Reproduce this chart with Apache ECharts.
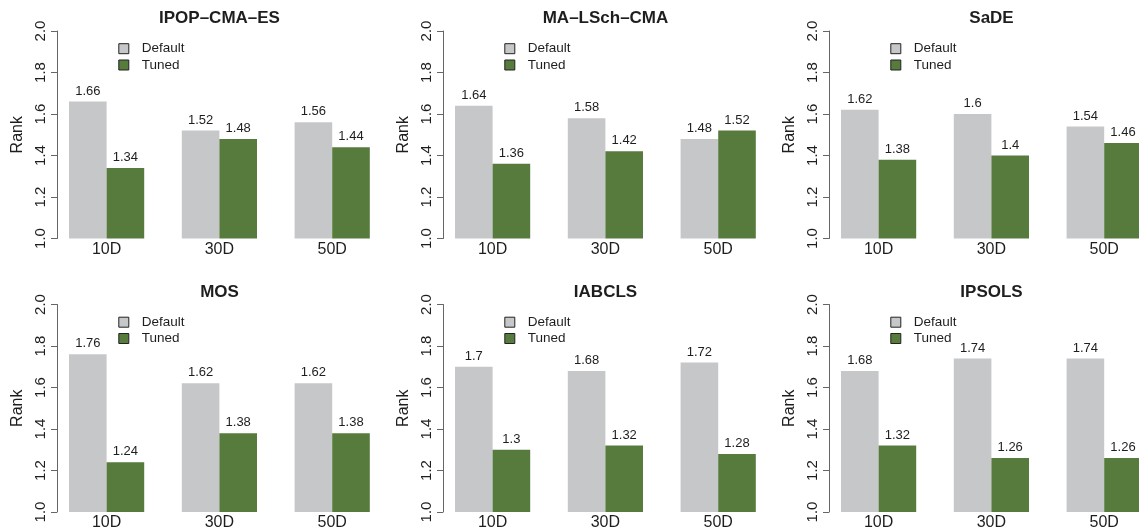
<!DOCTYPE html>
<html>
<head>
<meta charset="utf-8">
<script src="https://cdn.jsdelivr.net/npm/echarts@6/dist/echarts.min.js"></script>
<style>
  html, body { margin: 0; padding: 0; background: #ffffff; overflow: hidden; width: 1139px; height: 532px; }
  #chart { width: 1180px; height: 532px; }
</style>
</head>
<body>
<div id="chart"></div>
<script>
// ---- data ----
const categories = ['10D', '30D', '50D'];
const panelTitles = ['IPOP–CMA–ES', 'MA–LSch–CMA', 'SaDE', 'MOS', 'IABCLS', 'IPSOLS'];
const seriesNames = ['Default', 'Tuned'];
const defaultRanks = [
  [1.66, 1.52, 1.56],
  [1.64, 1.58, 1.48],
  [1.62, 1.6, 1.54],
  [1.76, 1.62, 1.62],
  [1.7, 1.68, 1.72],
  [1.68, 1.74, 1.74]
];
const tunedRanks = [
  [1.34, 1.48, 1.44],
  [1.36, 1.42, 1.52],
  [1.38, 1.4, 1.46],
  [1.24, 1.38, 1.38],
  [1.3, 1.32, 1.28],
  [1.32, 1.26, 1.26]
];
const yMin = 1.0, yMax = 2.0, yStep = 0.2;
const yLabel = 'Rank';

// ---- layout / style ----
const FONT = '"Liberation Sans", Arial, Helvetica, sans-serif';
const TXT = '#1e1e1e';
const GRAY = '#c6c7c9';
const GREEN = '#567b3c';
const axisX = [57, 443, 829];
const rowTop = [31, 304.5];
const plotH = 207.5;
const unit = 37.6;          // one bar width
const band = unit * 3;      // category band
const shift = 12 - (band / 2 - unit); // axis-to-band offset

const grids = [], xAxes = [], yAxes = [], series = [], titles = [], legends = [];
for (let i = 0; i < 6; i++) {
  const c = i % 3, r = Math.floor(i / 3);
  const A = axisX[c];
  const gLeft = A + shift;
  grids.push({ left: gLeft, top: rowTop[r], width: band * 3, height: plotH, containLabel: false });
  xAxes.push({
    type: 'category', gridIndex: i, data: categories,
    axisLine: { show: false }, axisTick: { show: false },
    axisLabel: { fontSize: 16, color: TXT, fontFamily: FONT, margin: 3 }
  });
  yAxes.push({
    type: 'value', gridIndex: i, min: yMin, max: yMax, interval: yStep,
    offset: -(A - gLeft),
    name: yLabel, nameLocation: 'middle', nameRotate: 90, nameGap: 31.5,
    nameTextStyle: { fontSize: 16, color: TXT, fontFamily: FONT },
    axisLine: { show: true, lineStyle: { color: '#666', width: 1 } },
    axisTick: { show: true, length: 6, lineStyle: { color: '#666', width: 1 } },
    splitLine: { show: false },
    axisLabel: {
      rotate: 90, fontSize: 15, color: TXT, fontFamily: FONT, margin: 9,
      formatter: v => v.toFixed(1)
    }
  });
  const lbl = { show: true, position: 'top', distance: 4, fontSize: 13, color: TXT, fontFamily: FONT };
  series.push({
    type: 'bar', name: seriesNames[0], xAxisIndex: i, yAxisIndex: i,
    data: defaultRanks[i], barWidth: unit, barGap: '0%',
    itemStyle: { color: GRAY }, label: lbl
  });
  series.push({
    type: 'bar', name: seriesNames[1], xAxisIndex: i, yAxisIndex: i,
    data: tunedRanks[i], barWidth: unit, barGap: '0%',
    itemStyle: { color: GREEN }, label: lbl
  });
  titles.push({
    text: panelTitles[i], left: A + 162.5, top: rowTop[r] - 20.7, textAlign: 'center', padding: 0,
    textStyle: { fontSize: 17, fontWeight: 'bold', color: TXT, fontFamily: FONT, lineHeight: 17 }
  });
  legends.push({
    data: seriesNames, orient: 'vertical', left: A + 61.3, top: rowTop[r] + 10.7, padding: 0,
    itemWidth: 10, itemHeight: 10, itemGap: 2.3, icon: 'rect', selectedMode: false,
    itemStyle: { borderColor: '#222', borderWidth: 1 },
    textStyle: { fontSize: 13.5, color: TXT, fontFamily: FONT, lineHeight: 14, padding: [0, 0, 0, 8] }
  });
}

const chart = echarts.init(document.getElementById('chart'), null, { renderer: 'canvas' });
chart.setOption({
  animation: false,
  backgroundColor: '#ffffff',
  title: titles,
  legend: legends,
  grid: grids,
  xAxis: xAxes,
  yAxis: yAxes,
  series: series
});
</script>
</body>
</html>
